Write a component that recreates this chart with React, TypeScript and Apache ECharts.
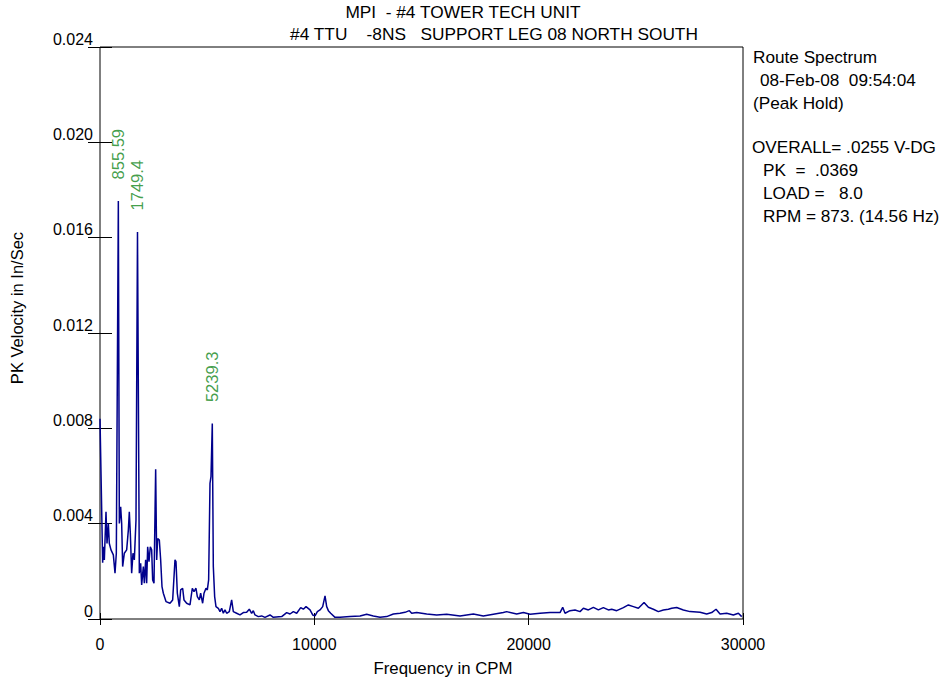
import React, { useEffect, useRef } from "react";
import * as echarts from "echarts";

// ---- data ----
const freqCPM = [
  0, 124, 156, 202, 280, 327, 389, 435, 513, 622, 700, 762, 855.59, 902, 964, 1011, 1057, 1135, 1244, 1322,
  1368, 1415, 1477, 1539, 1602, 1679, 1749.4, 1835, 1897, 1944, 2022, 2068, 2130, 2177, 2224, 2286, 2348, 2410,
  2457, 2519, 2597, 2644, 2690, 2768, 2830, 2892, 2955, 3079, 3266, 3390, 3499, 3545, 3608, 3701, 3763, 3856,
  3919, 4043, 4199, 4307, 4385, 4478, 4541, 4634, 4696, 4789, 4852, 4945, 5007, 5069, 5132, 5178, 5239.3, 5287,
  5349, 5411, 5520, 5598, 5676, 5754, 5831, 5909, 6033, 6142, 6220, 6376, 6531, 6687, 6842, 6966, 7075, 7153,
  7231, 7386, 7542, 7697, 7930, 8088, 8477, 8710, 8865, 9021, 9177, 9363, 9487, 9612, 9799, 9923, 10032, 10141,
  10265, 10390, 10499, 10576, 10654, 10763, 10965, 11198, 11665, 12132, 12443, 12753, 13065, 13376, 13687,
  13998, 14231, 14433, 14542, 14775, 15242, 15709, 16175, 16798, 17420, 17885, 18352, 18818, 18975, 19442,
  19753, 20064, 20530, 20997, 21464, 21588, 21697, 21930, 22164, 22397, 22553, 22786, 23019, 23252, 23485,
  23719, 23875, 24108, 24419, 24652, 24885, 25118, 25383, 25585, 25818, 26051, 26285, 26518, 26673, 26906,
  27218, 27529, 27996, 28307, 28540, 28742, 28929, 29240, 29551, 29784, 29940,
];

const pkVelocity = [
  0.0084, 0.00236, 0.00303, 0.00248, 0.0045, 0.00317, 0.00401, 0.00317, 0.0029, 0.00269, 0.00192, 0.00276,
  0.01754, 0.00401, 0.00471, 0.00401, 0.0022, 0.00276, 0.0029, 0.00373, 0.0045, 0.00359, 0.00192, 0.00276,
  0.00248, 0.00415, 0.01624, 0.00192, 0.00234, 0.00143, 0.0022, 0.0015, 0.00248, 0.0015, 0.00303, 0.00241,
  0.00303, 0.0029, 0.00164, 0.0015, 0.00628, 0.00248, 0.00338, 0.00331, 0.00248, 0.00136, 0.00108, 0.00073,
  0.00066, 0.0008, 0.00248, 0.00241, 0.00108, 0.00052, 0.00122, 0.00129, 0.0008, 0.00066, 0.00059, 0.00129,
  0.00115, 0.00129, 0.00094, 0.0008, 0.00108, 0.00066, 0.00108, 0.00129, 0.00122, 0.00164, 0.00569, 0.00597,
  0.0082, 0.0022, 0.00094, 0.00052, 0.00045, 0.00031, 0.00045, 0.00024, 0.00038, 0.00024, 0.00031, 0.0008,
  0.00031, 0.00024, 0.00017, 0.00027, 0.00028, 0.00041, 0.00024, 0.00035, 0.00017, 0.0001, 0.00013, 0.00007,
  0.00017, 0.00007, 0.0001, 0.00027, 0.00021, 0.00031, 0.00024, 0.00048, 0.00041, 0.00052, 0.00038, 0.00017,
  0.00013, 0.00031, 0.00038, 0.00052, 0.00097, 0.00052, 0.00035, 0.00024, 0.00007, 0.00007, 0.0001, 0.00013,
  0.0002, 0.00013, 0.00007, 0.0001, 0.00021, 0.00024, 0.00028, 0.00035, 0.00024, 0.00027, 0.00021, 0.00017,
  0.0002, 0.00013, 0.00021, 0.00013, 0.0002, 0.00027, 0.00031, 0.00021, 0.00027, 0.0002, 0.00024, 0.00027,
  0.00027, 0.00049, 0.00024, 0.00035, 0.00038, 0.00031, 0.00045, 0.00038, 0.00049, 0.00038, 0.00048, 0.00038,
  0.00041, 0.00035, 0.00048, 0.00059, 0.00052, 0.00045, 0.00069, 0.00049, 0.00041, 0.00031, 0.00038, 0.00041,
  0.00045, 0.00048, 0.00038, 0.00031, 0.00028, 0.00021, 0.00027, 0.00041, 0.00021, 0.00024, 0.00017, 0.00024,
  0.0001,
];

const peakFreqs = [855.59, 1749.4, 5239.3];
const peakValues = [0.01754, 0.01624, 0.0082];
const peakLabels = ["855.59", "1749.4", "5239.3"];

const titleLines = ["MPI  - #4 TOWER TECH UNIT", "#4 TTU    -8NS   SUPPORT LEG 08 NORTH SOUTH"];
const infoLines = [
  "Route Spectrum",
  "08-Feb-08  09:54:04",
  "(Peak Hold)",
  "OVERALL= .0255 V-DG",
  "PK  =  .0369",
  "LOAD =   8.0",
  "RPM = 873. (14.56 Hz)",
];
const xAxisTitle = "Frequency in CPM";
const yAxisTitle = "PK Velocity in In/Sec";

const xMin = 0;
const xMax = 30000;
const xStep = 10000;
const yMin = 0;
const yMax = 0.024;
const yStep = 0.004;

// ---- layout ----
const FONT = "'Liberation Sans', Arial, Helvetica, sans-serif";
const titlePos = [
  [463, 12],
  [494, 34],
];
const infoPos = [
  [753, 57],
  [760, 80],
  [753, 103],
  [752, 147],
  [763, 170],
  [763, 193],
  [763, 216],
];

export default function App() {
  const ref = useRef<HTMLDivElement>(null);

  useEffect(() => {
    if (!ref.current) return;
    const chart = echarts.init(ref.current, null, { renderer: "svg" });

    const lineData = freqCPM.map((f, i) => [f, pkVelocity[i]]);
    const peakData = peakFreqs.map((f, i) => ({ value: [f, peakValues[i]], label: { formatter: peakLabels[i] } }));

    const tickStyle = { color: "#000", width: 1 };

    const xBase = {
      type: "value",
      min: xMin,
      max: xMax,
      interval: xStep,
      axisLine: { show: false },
      splitLine: { show: false },
    };
    const yBase = {
      type: "value",
      min: yMin,
      max: yMax,
      interval: yStep,
      axisLine: { show: false },
      splitLine: { show: false },
    };

    const textEl = (text: string, x: number, y: number, opts: any = {}) => ({
      type: "text",
      x,
      y,
      rotation: opts.rotation || 0,
      silent: true,
      style: {
        text,
        fill: opts.fill || "#000",
        font: `${opts.size || 16}px ${FONT}`,
        textAlign: opts.align || "left",
        align: opts.align || "left",
        textVerticalAlign: "middle",
        verticalAlign: "middle",
      },
    });

    const graphics: any[] = [];
    titleLines.forEach((t, i) => graphics.push(textEl(t, titlePos[i][0], titlePos[i][1], { align: "center", size: 17.3 })));
    infoLines.forEach((t, i) => graphics.push(textEl(t, infoPos[i][0], infoPos[i][1], { size: 17.2 })));
    graphics.push(textEl(xAxisTitle, 443, 668, { align: "center", size: 16.8 }));
    graphics.push(textEl(yAxisTitle, 17, 308, { align: "center", size: 16.5, rotation: Math.PI / 2 }));

    chart.setOption({
      animation: false,
      backgroundColor: "#fff",
      textStyle: { fontFamily: FONT },
      grid: {
        left: 100,
        right: 197,
        top: 47,
        bottom: 63,
        containLabel: false,
        show: true,
        borderColor: "#000",
        borderWidth: 1,
        backgroundColor: "transparent",
      },
      xAxis: [
        {
          ...xBase,
          position: "bottom",
          axisTick: { show: true, inside: true, length: 6, lineStyle: tickStyle },
          axisLabel: {
            show: true,
            margin: 17,
            fontSize: 16,
            color: "#000",
            fontFamily: FONT,
            formatter: (v: number) => String(v),
          },
        },
        {
          ...xBase,
          position: "top",
          axisTick: { show: true, inside: true, length: 6, lineStyle: tickStyle },
          axisLabel: { show: false },
        },
      ],
      yAxis: [
        {
          ...yBase,
          position: "left",
          offset: 6,
          axisTick: { show: true, inside: true, length: 12, lineStyle: tickStyle },
          axisLabel: {
            show: true,
            margin: 1,
            fontSize: 16,
            color: "#000",
            fontFamily: FONT,
            verticalAlign: "bottom",
            lineHeight: 16,
            formatter: (v: number) => (v === 0 ? "0" : v.toFixed(3)),
          },
        },
        {
          ...yBase,
          position: "right",
          offset: 6,
          axisTick: { show: true, inside: true, length: 12, lineStyle: tickStyle },
          axisLabel: { show: false },
        },
      ],
      series: [
        {
          type: "line",
          xAxisIndex: 0,
          yAxisIndex: 0,
          data: lineData,
          symbol: "none",
          showSymbol: false,
          lineStyle: { color: "#00008c", width: 1.5 },
          z: 3,
        },
        {
          type: "scatter",
          xAxisIndex: 0,
          yAxisIndex: 0,
          data: peakData,
          symbolSize: 1,
          itemStyle: { color: "rgba(0,0,0,0)" },
          label: {
            show: true,
            position: "top",
            distance: 21,
            rotate: 90,
            align: "left",
            verticalAlign: "middle",
            color: "#12861b",
            fontSize: 16.5,
            fontFamily: FONT,
          },
          z: 4,
        },
      ],
      graphic: graphics,
    });

    return () => chart.dispose();
  }, []);

  return (
    <div
      ref={ref}
      style={{ position: "fixed", left: 0, top: 0, width: 940, height: 682, background: "#fff" }}
    />
  );
}
